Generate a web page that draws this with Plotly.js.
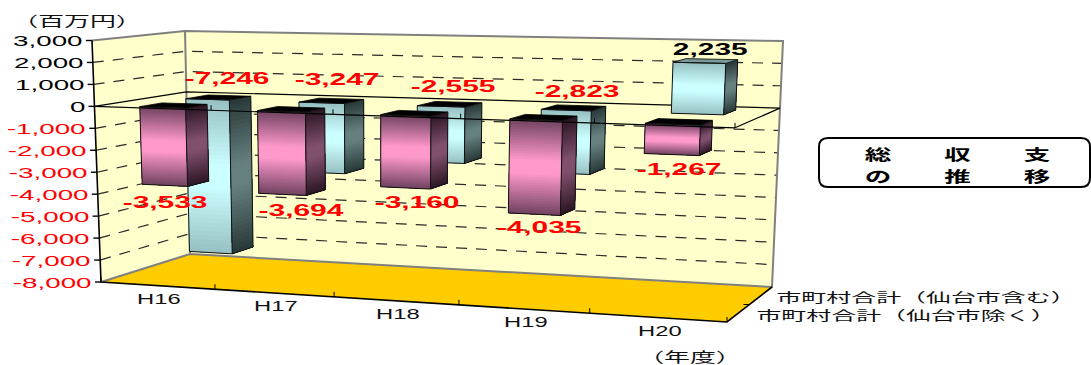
<!DOCTYPE html>
<html>
<head>
<meta charset="utf-8">
<script src="https://cdn.plot.ly/plotly-3.0.1.min.js"></script>
<style>
html,body{margin:0;padding:0;background:#fff;overflow:hidden}
#chart{width:1091px;height:365px}
</style>
</head>
<body>
<div id="chart"></div>
<script>
// Fiscal years along the front edge
const categories = ['H16', 'H17', 'H18', 'H19', 'H20'];
// 総収支, millions of yen
const seriesExcl = [-3533, -3694, -3160, -4035, -1267]; // 仙台市除く (front row)
const seriesIncl = [-7246, -3247, -2555, -2823, 2235];  // 仙台市含む (back row)
const seriesNames = ['市町村合計（仙台市含む）', '市町村合計（仙台市除く）'];
const valueTicks = [3000, 2000, 1000, 0, -1000, -2000, -3000, -4000, -5000, -6000, -7000, -8000];
const V_MAX = 3000, V_MIN = -8000;

// 3-D box corners on the page: [front-left, back-left, back-right, front-right]
const topCorners = [[92, 40.5], [185, 31], [783, 41], [738, 55]];
const botCorners = [[101, 282], [190, 254], [772, 287], [727, 322]];
const FORESHORTEN = 0.89;

function lerp(a, b, t) { return a + (b - a) * t; }

// Maps category position u (0..1), depth v (0..1), value w to page position
function project(u, v, w) {
  const uu = FORESHORTEN * u / (1 + (FORESHORTEN - 1) * u);
  const t = (w - V_MIN) / (V_MAX - V_MIN);
  const out = [0, 1].map(i => {
    const front = lerp(botCorners[0][i], botCorners[3][i], uu);
    const back = lerp(botCorners[1][i], botCorners[2][i], uu);
    const bot = lerp(front, back, v);
    const frontT = lerp(topCorners[0][i], topCorners[3][i], uu);
    const backT = lerp(topCorners[1][i], topCorners[2][i], uu);
    const top = lerp(frontT, backT, v);
    return lerp(bot, top, t);
  });
  return out;
}

const traces = [];
function poly(points, fill, lineColor, lineWidth) {
  traces.push({
    type: 'scatter', mode: lineWidth ? 'lines' : 'none', hoverinfo: 'skip', showlegend: false,
    x: points.map(p => p[0]).concat(points[0][0]),
    y: points.map(p => p[1]).concat(points[0][1]),
    fill: 'toself', fillcolor: fill,
    line: {color: lineColor || fill, width: lineWidth || 0}
  });
}
function path(points, color, width, dash) {
  traces.push({
    type: 'scatter', mode: 'lines', hoverinfo: 'skip', showlegend: false,
    x: points.map(p => p[0]), y: points.map(p => p[1]),
    line: {color: color, width: width, dash: dash || 'solid'}
  });
}

// Walls and floor
const FL = w => project(0, 0, w), BL = w => project(0, 1, w);
const BR = w => project(1, 1, w), FR = w => project(1, 0, w);
poly([FL(V_MAX), BL(V_MAX), BL(V_MIN), FL(V_MIN)], '#FFFFCC');
poly([BL(V_MAX), BR(V_MAX), BR(V_MIN), BL(V_MIN)], '#FFFFCC');
poly([FL(V_MIN), BL(V_MIN), BR(V_MIN), FR(V_MIN)], '#FFCC00');

// Dashed gridlines across both walls
valueTicks.filter(w => w !== 0 && w !== V_MAX && w !== V_MIN).forEach(w => {
  path([FL(w), BL(w), BR(w)], '#2a2a2a', 1.2, '11px,9px');
});

// Wall outlines
path([FL(V_MAX), BL(V_MAX), BR(V_MAX), BR(V_MIN), BL(V_MIN), FL(V_MIN)], '#808080', 2);
path([BL(V_MAX), BL(V_MIN)], '#808080', 2);

// Zero plane, far edges
path([FL(0), BL(0), BR(0), FR(0)], '#000', 1.2);

// Bars: shaded in horizontal bands, darkest at both ends.
// Each band runs on to the far end of the face and the next one paints over it.
function mix(c1, c2, t) {
  return 'rgb(' + c1.map((c, i) => Math.round(lerp(c, c2[i], t))).join(',') + ')';
}
const BANDS = 36;
function shadedFace(corner, w0, w1, edge, mid) {
  for (let k = 0; k < BANDS; k++) {
    const a = lerp(w0, w1, k / BANDS);
    const s = 1 - Math.abs(((k + 0.5) / BANDS) * 2 - 1);
    const c = mix(edge, mid, Math.min(1, s * 1.15));
    poly([corner(0, a), corner(1, a), corner(1, w1), corner(0, w1)], c);
  }
}
function bar(i, value, v0, v1, pal) {
  const u0 = (i + pal.from) / categories.length, u1 = (i + pal.to) / categories.length;
  const hi = Math.max(0, value), lo = Math.min(0, value);
  shadedFace((s, w) => project(s ? u1 : u0, v0, w), hi, lo, pal.edge, pal.mid);
  shadedFace((s, w) => project(u1, s ? v1 : v0, w), hi, lo, pal.sideEdge, pal.sideMid);
  const topFace = [project(u0, v0, hi), project(u0, v1, hi), project(u1, v1, hi), project(u1, v0, hi)];
  poly(topFace, value > 0 ? pal.capUp : '#000', '#000', 0.8);
  path([project(u0, v0, hi), project(u0, v0, lo), project(u1, v0, lo), project(u1, v0, hi), project(u0, v0, hi)], '#111', 1);
  path([project(u1, v0, lo), project(u1, v1, lo), project(u1, v1, hi)], '#111', 1);
}
const teal = {from: 0.33, to: 0.72, edge: [150, 192, 194], mid: [204, 255, 255], sideEdge: [40, 56, 56], sideMid: [102, 128, 128], capUp: '#7a9a9a'};
const pink = {from: 0.34, to: 0.735, edge: [112, 66, 96], mid: [255, 153, 204], sideEdge: [44, 22, 36], sideMid: [128, 80, 108], capUp: '#000'};
seriesIncl.forEach((val, i) => bar(i, val, 0.60, 0.85, teal));
seriesExcl.forEach((val, i) => bar(i, val, 0.07, 0.32, pink));

// Front zero line, value axis, floor edges and their ticks
path([FL(0), FR(0)], '#000', 1.2);
path([FL(V_MAX), FL(V_MIN), FR(V_MIN), BR(V_MIN)], '#000', 1.6);
valueTicks.forEach(w => {
  const p = FL(w);
  path([[p[0] - 6, p[1]], p], '#000', 1.4);
});
for (let i = 0; i <= categories.length; i++) {
  const p = project(i / categories.length, 0, V_MIN), q = project(i / categories.length, 0, 0);
  path([p, [p[0], p[1] - 5]], '#000', 1);
  path([q, [q[0], q[1] - 5]], '#000', 1);
}
const edgeMid = project(1, 0.5, V_MIN);
path([edgeMid, [edgeMid[0] - 6, edgeMid[1]]], '#000', 1);

// Text
const LATIN = '"Liberation Sans", Arial, sans-serif';
const CJK = '"Noto Sans CJK JP", sans-serif';
const annotations = [], stretches = [];
function label(text, x, y, size, color, family, bold, stretch, anchor) {
  annotations.push({
    text: bold ? '<b>' + text + '</b>' : text, x: x, y: y, xref: 'x', yref: 'y', showarrow: false,
    xanchor: anchor || 'center', yanchor: 'middle',
    font: {size: size, color: color, family: family}
  });
  stretches.push({k: stretch, origin: anchor === 'right' ? 'right center' : 'center'});
}
const fmt = n => n.toLocaleString('en-US');

valueTicks.forEach(w => {
  const p = FL(w);
  label(fmt(w), p[0] - 7, p[1], 15, w < 0 ? '#FF0000' : '#000', LATIN, false, 1.85, 'right');
});

categories.forEach((c, i) => {
  const p = project((i + 0.515) / categories.length, 0, V_MIN);
  label(c, p[0], p[1] + 13, 14, '#111', LATIN, false, 1.7);
});

// Value labels sit just off the end of each bar
const exclOffset = [[0, 18], [19, 17], [12, 16], [6, 14], [9, 16]];
const inclOffset = [[21, -21], [17, -23], [14, -20], [13, -19], [13, -13]];
seriesExcl.forEach((val, i) => {
  const p = project((i + 0.51) / categories.length, 0.11, val);
  label(fmt(val), p[0] + exclOffset[i][0], p[1] + exclOffset[i][1], 17, '#FF0000', LATIN, true, 1.76);
});
seriesIncl.forEach((val, i) => {
  const p = project((i + 0.51) / categories.length, 0.60, Math.max(0, val));
  label(fmt(val), p[0] + inclOffset[i][0], p[1] + inclOffset[i][1], 17, val < 0 ? '#FF0000' : '#000', LATIN, true, 1.76);
});

label('（百万円）', 77, 20, 14, '#111', CJK, false, 1.85);
label('（年度）', 690, 356, 14, '#111', CJK, false, 1.85);
label(seriesNames[0], 926, 296, 13, '#111', CJK, false, 1.92);
label(seriesNames[1], 906, 314, 13, '#111', CJK, false, 1.92);
label('総　　収　　支', 957.5, 153, 15, '#000', CJK, true, 1.77);
label('の　　推　　移', 957.5, 175, 15, '#000', CJK, true, 1.77);

// Rounded title frame
const frame = 'M 828 138 L 1081 138 Q 1090 138 1090 147 L 1090 178 Q 1090 187 1081 187 ' +
              'L 828 187 Q 819 187 819 178 L 819 147 Q 819 138 828 138 Z';

const layout = {
  width: 1091, height: 365,
  margin: {l: 0, r: 0, t: 0, b: 0},
  paper_bgcolor: '#fff', plot_bgcolor: '#fff',
  showlegend: false,
  xaxis: {range: [0, 1091], visible: false, fixedrange: true},
  yaxis: {range: [365, 0], visible: false, fixedrange: true},
  annotations: annotations,
  shapes: [{type: 'path', path: frame, xref: 'x', yref: 'y', line: {color: '#000', width: 2}, fillcolor: '#fff', layer: 'below'}]
};

Plotly.newPlot('chart', traces, layout, {staticPlot: true, displayModeBar: false}).then(() => {
  // The labels are set wide: widen each glyph run about its anchor
  document.querySelectorAll('#chart .annotation').forEach(g => {
    const i = +g.getAttribute('data-index');
    const t = g.querySelector('text');
    if (!t || !stretches[i]) return;
    t.style.transformBox = 'fill-box';
    t.style.transformOrigin = stretches[i].origin;
    t.style.transform = 'scaleX(' + stretches[i].k + ')';
  });
});
</script>
</body>
</html>
